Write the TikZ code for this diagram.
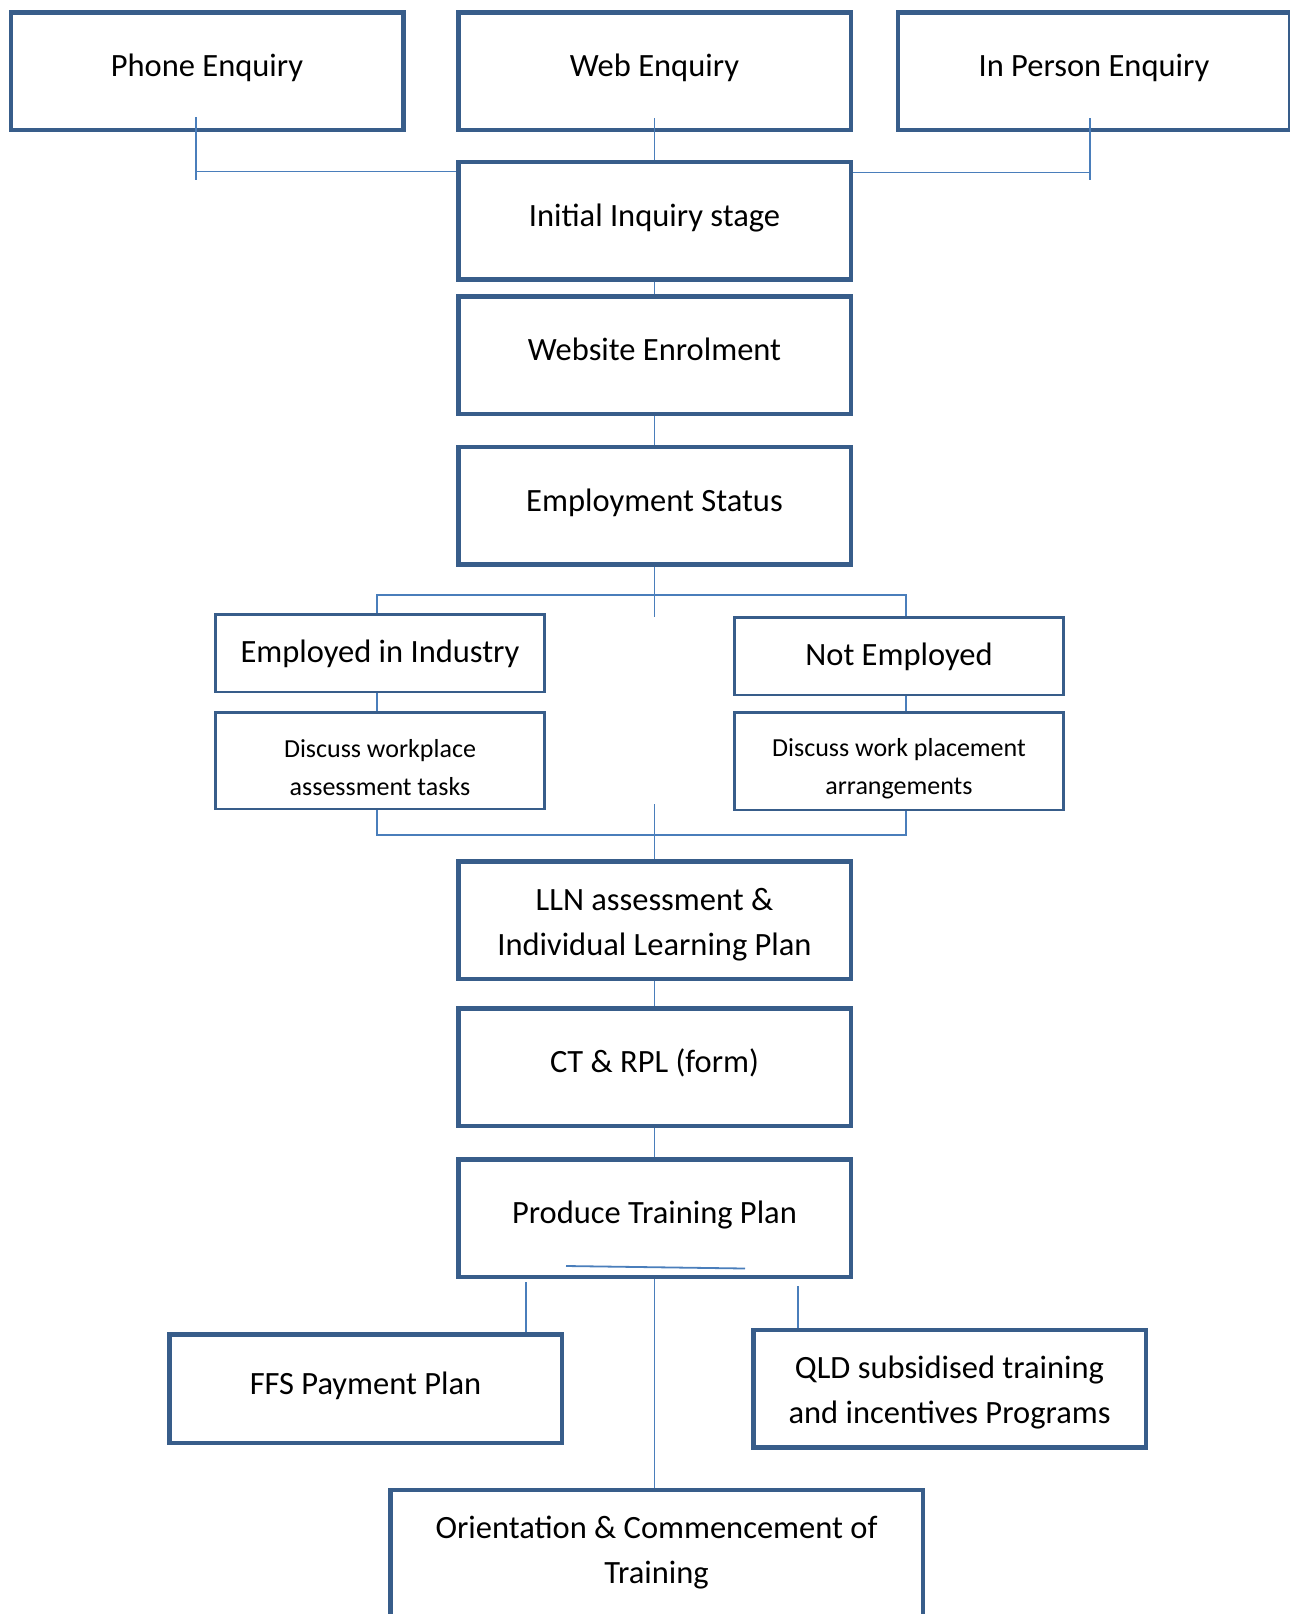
\documentclass[tikz,border=0pt]{standalone}
\usepackage{fontspec}
\setmainfont{Carlito}
\definecolor{boxblue}{HTML}{385D8A}
\definecolor{lineblue}{HTML}{4A7EBB}
\tikzset{
  bigbox/.style={draw=boxblue, line width=4.5pt, minimum width=392.5pt, minimum height=117.5pt,
    inner sep=0pt, align=center, font=\fontsize{32.5}{45}\selectfont, text height=24pt, text depth=13pt},
  twoline/.style={text height=78.5pt, text depth=8pt},
  smallbox/.style={draw=boxblue, line width=2.5pt, minimum width=329pt,
    inner sep=0pt, align=center, font=\fontsize{26}{38}\selectfont},
  link/.style={draw=lineblue, line width=1.8pt}
}

\begin{document}
\begin{tikzpicture}[x=1pt,y=-1pt]
        \useasboundingbox (0,0) rectangle (1290,1614);
        \node[bigbox] (phone) at (207,71) {Phone Enquiry};
        \node[bigbox] (web) at (654.5,71) {Web Enquiry};
        \node[bigbox] (inperson) at (1094,71) {In Person Enquiry};
        \node[bigbox] (inquiry) at (654.5,220.5) {Initial Inquiry stage};
        \node[bigbox] (enrol) at (654.5,355) {Website Enrolment};
        \node[bigbox] (status) at (654.5,505.5) {Employment Status};
        \node[smallbox, minimum height=77.5pt, font=\fontsize{32.5}{45}\selectfont, text height=24pt, text depth=5pt] (employed) at (380,653) {Employed in Industry};
        \node[smallbox, minimum height=77.5pt, font=\fontsize{32.5}{45}\selectfont, text height=24pt, text depth=5pt] (notemployed) at (899,656) {Not Employed};
        \node[smallbox, minimum height=96.5pt, text height=70pt, text depth=0pt] (workplace) at (380,760.5) {Discuss workplace\\assessment tasks};
        \node[smallbox, minimum height=97.5pt, text height=72pt, text depth=5pt] (placement) at (899,761) {Discuss work placement\\arrangements};
        \node[bigbox, twoline] (lln) at (654.5,920) {LLN assessment \&\\Individual Learning Plan};
        \node[bigbox] (ctrpl) at (654.5,1067) {CT \& RPL (form)};
        \node[bigbox] (plan) at (654.5,1218) {Produce Training Plan};
        \node[bigbox, minimum height=108.5pt] (ffs) at (365.5,1388.5) {FFS Payment Plan};
        \node[bigbox, twoline] (qld) at (949.5,1388.5) {QLD subsidised training\\and incentives Programs};
        \node[bigbox, text height=, text depth=, minimum width=532.5pt, minimum height=126pt] (orient) at (656.5,1553) {Orientation \& Commencement of\\Training};

        \coordinate (phonetop) at (196,117);
        \coordinate (phonebot) at (196,180);
        \coordinate (phonejoin) at (196,171.5);
        \draw[link] (phonetop) -- (phonebot);
        \draw[link] (phonejoin) -- (inquiry.west |- phonejoin);
        \coordinate (webtop) at (654.5,118);
        \draw[link] (webtop) -- (inquiry.north);
        \coordinate (persontop) at (1090,118);
        \coordinate (personbot) at (1090,180);
        \coordinate (personjoin) at (1090,172.5);
        \draw[link] (persontop) -- (personbot);
        \draw[link] (inquiry.east |- personjoin) -- (personjoin);
        \draw[link] (inquiry.south) -- (enrol.north);
        \draw[link] (enrol.south) -- (status.north);

        \coordinate (split) at (654.5,595);
        \coordinate (splitbot) at (654.5,617);
        \draw[link] (status.south) -- (splitbot);
        \draw[link] ([xshift=-3pt]employed.north) |- (split) -| ([xshift=7pt]notemployed.north);
        \draw[link] ([xshift=-3pt]employed.south) -- ([xshift=-3pt]workplace.north);
        \draw[link] ([xshift=7pt]notemployed.south) -- ([xshift=7pt]placement.north);
        \coordinate (merge) at (654.5,835);
        \coordinate (mergetop) at (654.5,804);
        \draw[link] ([xshift=-3pt]workplace.south) |- (merge) -| ([xshift=7pt]placement.south);
        \draw[link] (mergetop) -- (lln.north);
        \draw[link] (lln.south) -- (ctrpl.north);
        \draw[link] (ctrpl.south) -- (plan.north);

        \coordinate (slashleft) at (566,1266);
        \coordinate (slashright) at (745,1268.5);
        \draw[link] (slashleft) -- (slashright);
        \coordinate (ffstop) at (526,1282);
        \coordinate (qldtop) at (798,1286);
        \draw[link] (ffstop) -- (ffstop |- ffs.north);
        \draw[link] (qldtop) -- (qldtop |- qld.north);
        \draw[link] (plan.south) -- (plan.south |- orient.north);
\end{tikzpicture}
\end{document}
